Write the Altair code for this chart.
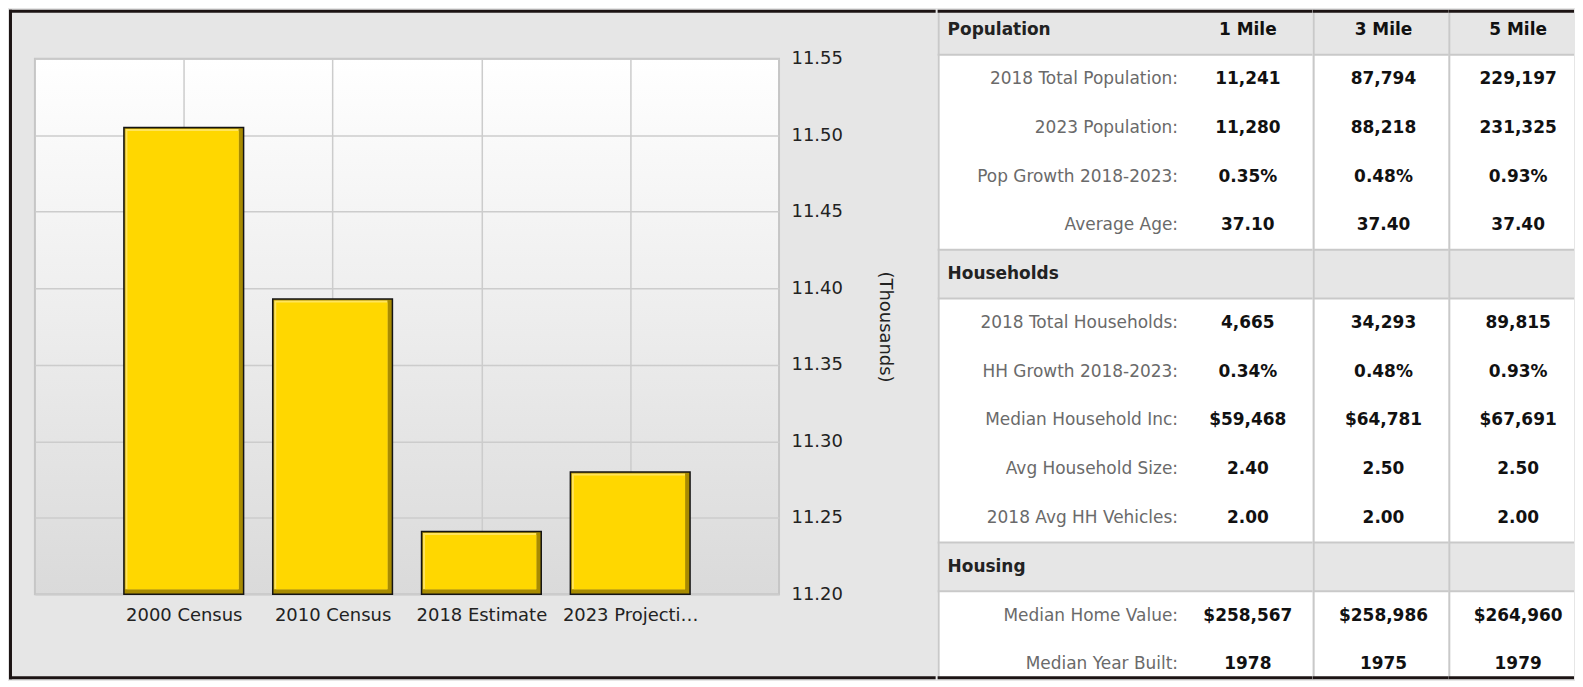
import altair as alt
import pandas as pd

FONT = "DejaVu Sans"

# ---------------- bar chart data ----------------
categories = ["2000 Census", "2010 Census", "2018 Estimate", "2023 Projection"]
population_thousands = [11.505, 11.393, 11.241, 11.280]
y_ticks = [11.20, 11.25, 11.30, 11.35, 11.40, 11.45, 11.50, 11.55]

# ---------------- table data ----------------
row_labels = ["Population", "2018 Total Population:", "2023 Population:", "Pop Growth 2018-2023:", "Average Age:",
              "Households", "2018 Total Households:", "HH Growth 2018-2023:", "Median Household Inc:",
              "Avg Household Size:", "2018 Avg HH Vehicles:",
              "Housing", "Median Home Value:", "Median Year Built:"]
row_kinds = ["header", "data", "data", "data", "data",
             "header", "data", "data", "data", "data", "data",
             "header", "data", "data"]
mile1 = ["1 Mile", "11,241", "11,280", "0.35%", "37.10", "", "4,665", "0.34%", "$59,468", "2.40", "2.00", "", "$258,567", "1978"]
mile3 = ["3 Mile", "87,794", "88,218", "0.48%", "37.40", "", "34,293", "0.48%", "$64,781", "2.50", "2.00", "", "$258,986", "1975"]
mile5 = ["5 Mile", "229,197", "231,325", "0.93%", "37.40", "", "89,815", "0.93%", "$67,691", "2.50", "2.00", "", "$264,960", "1979"]

# ---------------- layout constants ----------------
W, H = 746, 537          # bar plot area
TOP = 49                 # space above the plot area
TOTAL_H = 671            # whole picture height
BOTTOM = TOTAL_H - TOP   # lowest y, in plot coordinates
PANEL_R = 903            # right edge of the left panel, plot coordinates
ROW_H = 48.9             # table row pitch
ROW0 = -53               # top of the first table row, plot coordinates
BW = 3                   # dark frame thickness
BORDER = "#1c1414"
LINE = "#c9c9c9"

bar_df = pd.DataFrame({"cat": categories, "val": population_thousands})
one = pd.DataFrame({"k": [0]})

x_enc = alt.X("cat:N", sort=categories,
              scale=alt.Scale(type="point", padding=1),
              axis=alt.Axis(title=None, grid=True, gridColor="#cccccc", gridWidth=1.5,
                            ticks=False, domain=False, labelAngle=0, labelFont=FONT,
                            labelFontSize=18, labelColor="#222222", labelPadding=12,
                            labelLimit=138))
y_enc = alt.Y("val:Q",
              scale=alt.Scale(domain=[11.2, 11.55], nice=False, zero=False),
              axis=alt.Axis(orient="right", values=y_ticks, format=".2f",
                            grid=True, gridColor="#cccccc", gridWidth=1.5,
                            ticks=False, domain=False, labelFont=FONT, labelFontSize=18,
                            labelColor="#222222", labelPadding=12,
                            title="(Thousands)", titleFont=FONT, titleFontSize=18,
                            titleFontWeight="normal", titleColor="#222222",
                            titlePadding=33))

base = alt.Chart(bar_df).encode(x=x_enc, y=y_enc, y2=alt.datum(11.2))
bar_dark = base.mark_bar(size=120, color="#a88b00", stroke="#141414", strokeWidth=1.5)
bar_light = base.mark_bar(size=113.5, xOffset=-1.75, yOffset=1.5, y2Offset=-5, color="#ffe45c")
bar_face = base.mark_bar(size=111.5, xOffset=-0.75, yOffset=3.5, y2Offset=-5, color="#ffd700")

frame = alt.Chart(one)
left_b = frame.mark_rect(color=BORDER).encode(
    x=alt.value(-26), x2=alt.value(-26 + BW), y=alt.value(-TOP), y2=alt.value(BOTTOM))
top_b = frame.mark_rect(color=BORDER).encode(
    x=alt.value(-26), x2=alt.value(PANEL_R), y=alt.value(-TOP), y2=alt.value(-TOP + BW))
bot_b = frame.mark_rect(color=BORDER).encode(
    x=alt.value(-26), x2=alt.value(PANEL_R), y=alt.value(BOTTOM - BW), y2=alt.value(BOTTOM))

grad_expr = ("{gradient: 'linear', x1: 0, y1: 0, x2: 0, y2: 1, "
             "stops: [{offset: 0, color: '#ffffff'}, {offset: 1, color: '#dadada'}]}")

left = alt.layer(bar_dark, bar_light, bar_face, left_b, top_b, bot_b).properties(
    width=W, height=H,
    view=alt.ViewBackground(fill={"expr": grad_expr}, stroke="#c6c6c6", strokeWidth=2),
)

# ---------------- table ----------------
tbl_df = pd.DataFrame({"idx": list(range(len(row_labels))), "label": row_labels, "kind": row_kinds,
                       "m1": mile1, "m3": mile3, "m5": mile5})
# row index -> pixel; rows falling outside the picture are clamped to its edges
ysc = alt.Scale(domain=[(-TOP - ROW0) / ROW_H, (BOTTOM - ROW0) / ROW_H],
                range=[-TOP, BOTTOM], nice=False, zero=False, clamp=True)


def column(width, texts):
    tb = alt.Chart(tbl_df).transform_calculate(
        top="datum.idx", bot="datum.idx + 1", mid="datum.idx + 0.5")
    fr = alt.Chart(one)
    white = fr.mark_rect(color="#ffffff").encode(
        x=alt.value(0), x2=alt.value("width"), y=alt.value(-TOP), y2=alt.value(BOTTOM))
    heads = tb.transform_filter("datum.kind == 'header'").mark_rect(color="#e6e6e6").encode(
        x=alt.value(0), x2=alt.value("width"),
        y=alt.Y("top:Q", scale=ysc, axis=None), y2="bot:Q")
    hlines = tb.transform_filter("datum.kind == 'header'").transform_fold(
        ["top", "bot"], as_=["edge", "pos"]).transform_filter("datum.pos > 0").mark_rect(
        color=LINE, yOffset=-1, y2Offset=1).encode(
        x=alt.value(0), x2=alt.value("width"),
        y=alt.Y("pos:Q", scale=ysc, axis=None), y2="pos:Q")
    vline = fr.mark_rect(color=LINE).encode(
        x=alt.value(0), x2=alt.value(2), y=alt.value(-TOP), y2=alt.value(BOTTOM))
    tb_top = fr.mark_rect(color=BORDER).encode(
        x=alt.value(0), x2=alt.value("width"), y=alt.value(-TOP), y2=alt.value(-TOP + BW))
    tb_bot = fr.mark_rect(color=BORDER).encode(
        x=alt.value(0), x2=alt.value("width"), y=alt.value(BOTTOM - BW), y2=alt.value(BOTTOM))
    layers = [white, heads, hlines, vline]
    for field, xpos, align, bold, color, filt in texts:
        t = tb
        if filt:
            t = t.transform_filter(filt)
        layers.append(t.mark_text(align=align, baseline="middle", font=FONT, fontSize=17,
                                  fontWeight="bold" if bold else "normal", color=color).encode(
            x=alt.value(xpos), y=alt.Y("mid:Q", scale=ysc, axis=None), text=f"{field}:N"))
    layers += [tb_top, tb_bot]
    return alt.layer(*layers).properties(width=width, height=BOTTOM)


col1 = column(376, [
    ("label", 10, "left", True, "#222222", "datum.kind == 'header'"),
    ("label", 241, "right", False, "#6a6a6a", "datum.kind == 'data'"),
    ("m1", 311, "center", True, "#111111", None),
])
col2 = column(136, [("m3", 71, "center", True, "#111111", None)])
col3 = column(126, [("m5", 70, "center", True, "#111111", None)])

table = alt.hconcat(col1, col2, col3, spacing=0, bounds="flush")

chart = alt.hconcat(left, table, spacing=0).properties(
    background="#e6e6e6", padding=0
).configure(font=FONT).configure_view(stroke="transparent")

chart.save("out.html", embed_options={"renderer": "svg", "actions": False})
